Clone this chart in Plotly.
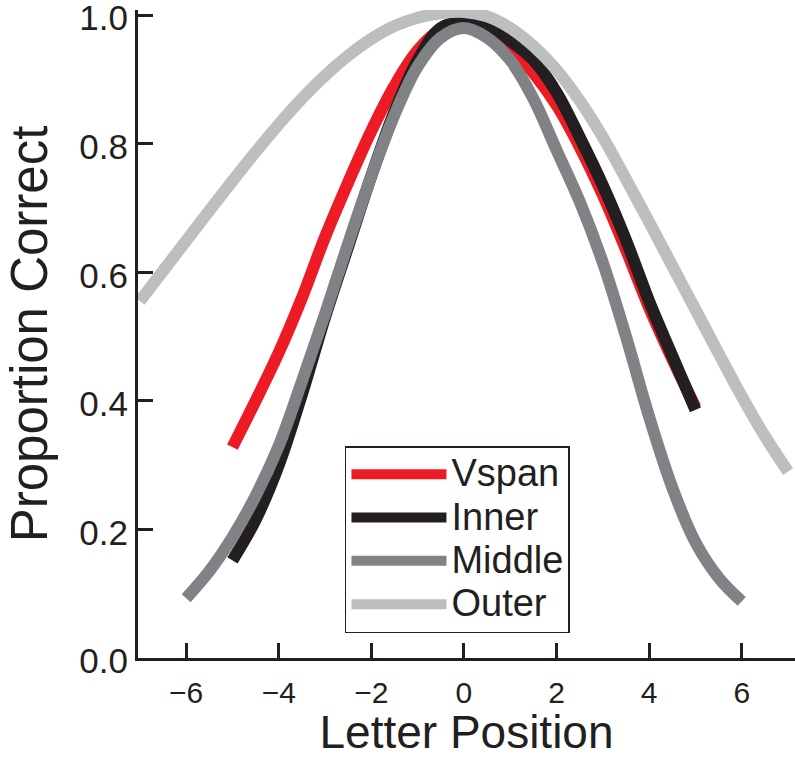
import plotly.graph_objects as go

# letter positions covered by each condition (read every half position)
pos_vspan = [-5, -4.5, -4, -3.5, -3, -2.5, -2, -1.5, -1, -0.5, 0, 0.5, 1, 1.5, 2, 2.5, 3, 3.5, 4, 4.5, 5]
pos_inner = [-5, -4.5, -4, -3.5, -3, -2.5, -2, -1.5, -1, -0.5, 0, 0.5, 1, 1.5, 2, 2.5, 3, 3.5, 4, 4.5, 5]
pos_middle = [-6, -5.5, -5, -4.5, -4, -3.5, -3, -2.5, -2, -1.5, -1, -0.5, 0,
              0.5, 1, 1.5, 2, 2.5, 3, 3.5, 4, 4.5, 5, 5.5, 6]
pos_outer = [-7, -6.5, -6, -5.5, -5, -4.5, -4, -3.5, -3, -2.5, -2, -1.5, -1, -0.5, 0,
             0.5, 1, 1.5, 2, 2.5, 3, 3.5, 4, 4.5, 5, 5.5, 6, 6.5, 7]

# proportion correct
vspan = [0.328, 0.40, 0.475, 0.56, 0.655, 0.74, 0.82, 0.89, 0.945, 0.978, 0.99,
         0.98, 0.95, 0.91, 0.86, 0.795, 0.72, 0.635, 0.545, 0.465, 0.39]
inner = [0.152, 0.215, 0.30, 0.41, 0.53, 0.64, 0.75, 0.85, 0.93, 0.98, 0.99,
         0.985, 0.96, 0.93, 0.88, 0.81, 0.735, 0.65, 0.555, 0.47, 0.386]
middle = [0.093, 0.135, 0.188, 0.252, 0.33, 0.43, 0.535, 0.645, 0.75, 0.845, 0.92, 0.965, 0.98,
          0.965, 0.93, 0.87, 0.79, 0.71, 0.615, 0.50, 0.375, 0.265, 0.18, 0.125, 0.088]
outer = [0.555, 0.602, 0.649, 0.696, 0.742, 0.787, 0.830, 0.870, 0.906, 0.937, 0.963, 0.983, 0.996, 1.003, 1.005,
         0.998, 0.98, 0.952, 0.915, 0.867, 0.81, 0.745, 0.678, 0.61, 0.542, 0.474, 0.407, 0.345, 0.29]

series = [
    ("Vspan", pos_vspan, vspan, "#ED1C24"),
    ("Inner", pos_inner, inner, "#231F20"),
    ("Middle", pos_middle, middle, "#808285"),
    ("Outer", pos_outer, outer, "#BCBEC0"),
]

fig = go.Figure()
for name, xs, ys, color in series:
    fig.add_trace(go.Scatter(
        x=xs, y=ys, mode="lines",
        # legend rows are spaced by the legend font size, text is drawn larger
        name=f"<span style='font-size:38px'>{name}</span>",
        line=dict(color=color, width=12, shape="spline", smoothing=1.0),
    ))

font = "Liberation Sans, Arial, sans-serif"
fig.update_layout(
    width=795, height=758,
    margin=dict(l=138, r=0, t=10, b=100),
    plot_bgcolor="white", paper_bgcolor="white",
    font=dict(family=font, color="#231F20", size=33),
    showlegend=True,
    legend=dict(
        x=0.315, y=0.327, xanchor="left", yanchor="top",
        bgcolor="white", bordercolor="#231F20", borderwidth=1.5,
        font=dict(size=31), itemwidth=95,
    ),
)
fig.update_xaxes(
    range=[-7.04, 7.15], tickvals=[-6, -4, -2, 0, 2, 4, 6],
    ticktext=["\u22126", "\u22124", "\u22122", "0", "2", "4", "6"],
    ticks="inside", ticklen=15, tickwidth=3, tickcolor="#231F20",
    showline=True, linecolor="#231F20", linewidth=3,
    showgrid=False, zeroline=False, automargin=False,
    tickfont=dict(size=30), ticklabeloverflow="allow", ticklabelstandoff=6,
    title=dict(text="Letter Position", font=dict(size=46), standoff=4),
)
fig.update_yaxes(
    range=[0, 1.008], tickvals=[0, 0.2, 0.4, 0.6, 0.8, 1.0],
    tickformat=".1f",
    ticks="inside", ticklen=15, tickwidth=3, tickcolor="#231F20",
    showline=True, linecolor="#231F20", linewidth=3,
    showgrid=False, zeroline=False, automargin=False,
    tickfont=dict(size=35), ticklabeloverflow="allow", ticklabelshift=3,
    # two leading no-break spaces nudge the centred title up a little
    title=dict(text="\u00a0\u00a0Proportion Correct", font=dict(size=51), standoff=16),
)

# the page's default 8px body margin would push the figure off the window
fig.write_html(
    "out.html",
    config={"displayModeBar": False},
    post_script="document.body.style.margin = '0px';",
)
